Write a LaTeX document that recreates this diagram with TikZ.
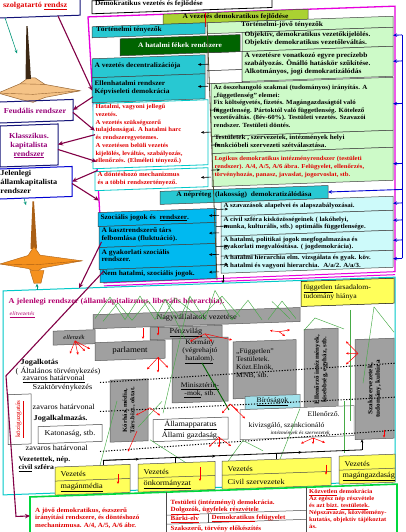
\documentclass[tikz,border=0pt]{standalone}
\usepackage{fontspec}
\setmainfont{Liberation Serif}[FakeStretch=1.1]
\usetikzlibrary{arrows.meta,calc}
\definecolor{mag}{RGB}{230,0,220}
\definecolor{cyh}{RGB}{40,200,210}
\definecolor{cyb}{RGB}{0,185,240}
\definecolor{lgr}{RGB}{205,250,200}
\definecolor{lcy}{RGB}{205,250,250}
\definecolor{hgr}{RGB}{170,210,50}
\definecolor{dgr}{RGB}{0,100,0}
\definecolor{pur}{RGB}{130,0,70}
\definecolor{ptx}{RGB}{150,0,120}
\definecolor{rtx}{RGB}{225,0,0}
\definecolor{gry}{RGB}{160,160,160}
\definecolor{yel}{RGB}{255,255,90}
\definecolor{tanC}{RGB}{245,195,135}
\definecolor{tanD}{RGB}{150,100,50}
\definecolor{org}{RGB}{245,145,30}
\definecolor{orgD}{RGB}{170,95,20}
\definecolor{cyf}{RGB}{0,200,200}
\definecolor{nvy}{RGB}{20,20,120}
\definecolor{blu}{RGB}{0,0,210}
\definecolor{zg}{RGB}{70,170,70}
\definecolor{tl}{RGB}{0,150,120}
\definecolor{ttl}{RGB}{180,0,110}
\definecolor{gbr}{RGB}{0,215,60}
\definecolor{bic}{RGB}{160,225,235}
\newcommand\fntH{\bfseries\fontsize{6.8}{7.8}\selectfont}
\newcommand\fntR{\bfseries\fontsize{6.3}{7.5}\selectfont}
\newcommand\fntRb{\bfseries\fontsize{6.8}{8}\selectfont}
\newcommand\fntL{\bfseries\fontsize{7.5}{9}\selectfont}
\newcommand\fntN{\fontsize{7.5}{8.5}\selectfont}
\newcommand\fntT{\bfseries\fontsize{7.5}{9}\selectfont}
\newcommand\fntP{\fontsize{7}{8}\selectfont}
\newcommand\fntG{\bfseries\fontsize{6.4}{7.5}\selectfont}
\newcommand\lbx[2]{\makebox[#1][l]{\begin{tabular}{@{}l@{}}#2\end{tabular}}}
% text of a box: #1 box name, #2 node options, #3 text
\newcommand\btx[3]{\node[inner sep=0pt, #2] (#1t) at (#1.center) {#3};}
\tikzset{
  bx/.style={draw=black!75, line width=0.5pt, anchor=north west, inner sep=2pt, outer sep=0pt, transform shape},
  gb/.style={bx, fill=gry, draw=black!65},
  yb/.style={bx, fill=yel, draw=black!70, minimum height=28pt},
  tx/.style={anchor=west, inner sep=0.5pt, font=\fntN},
  blk/.style={draw=black, line width=0.6pt, -{Stealth[length=3.2pt,width=2.8pt]}},
  bla/.style={draw=blu, line width=0.9pt, -{Stealth[length=4pt,width=3.5pt]}},
  pa/.style={draw=pur, line width=1.1pt, -{Stealth[length=5pt,width=4.5pt]}},
  ra/.style={draw=red, line width=0.5pt, -{Stealth[length=2.6pt,width=2.4pt]}},
  ga/.style={draw=tl, line width=0.6pt, -{Stealth[length=3.5pt,width=3pt]}},
  zz/.style={draw=zg, line width=0.45pt},
  dl/.style={draw=black, line width=1pt, dash pattern=on 1.2pt off 1.6pt},
}
\begin{document}
\begin{tikzpicture}[x=1pt,y=-1pt]
\useasboundingbox (0,0) rectangle (406,532);
\fill[white] (0,0) rectangle (406,532);
\begin{scope}[yshift=-7pt, yslant=0.035]

% ---------- spinning tops ----------
\fill[tanC, draw=tanD, line width=0.5pt] (-2,86) -- (20,77.5) -- (28,72) -- (35,72) -- (45,79) -- (80,86.6) -- (45,92) -- (33,96.5) -- (20,93) -- cycle;
\draw[tanD, line width=0.4pt] (-2,86) -- (33,88.5) -- (80,86.6);
\draw[tanD, line width=0.4pt] (20,77.5) -- (45,79);
\fill[black!60!tanD] (26.4,20) -- (27.6,20) -- (31,73) -- (25.5,73) -- cycle;
\fill[orgD] (32.5,195.5) -- (34,195.5) -- (37,243) -- (30.5,243) -- cycle;
\fill[org, draw=orgD, line width=0.4pt] (0,257) -- (28,249.5) -- (34,240.5) -- (40,249.5) -- (82,256.7) -- (42,262.5) -- (36,266.5) -- (28,262.5) -- cycle;
\draw[orgD, line width=0.4pt] (0,257) -- (36,259) -- (82,256.7);
\fill[org, draw=orgD, line width=0.4pt] (30,264.5) -- (44,265) -- (41,277.5) -- (34,277.5) -- cycle;

% ---------- left history boxes ----------
\node[bx, draw=nvy, line width=1pt, minimum width=83pt, minimum height=21pt] (T0) at (-3,-10) {};
\btx{T0}{font=\fntL, text=rtx}{\lbx{77pt}{\hspace{3pt}szolgatartó \underline{rendsz}}}
\node[bx, draw=nvy, line width=1pt, minimum width=76pt, minimum height=21pt] (F) at (-3,95) {};
\btx{F}{font=\fntL, text=ptx}{Feudális rendszer}
\node[bx, draw=nvy, line width=1pt, minimum width=58pt, minimum height=41pt] (K) at (0,119) {};
\btx{K}{font=\fntL, text=ptx, align=center}{Klasszikus.\\kapitalista\\\underline{rendszer}}
\node[bx, draw=blu, line width=1pt, minimum width=75pt, minimum height=30pt] (J) at (-3,162) {};
\btx{J}{font=\fntL}{\lbx{68pt}{Jelenlegi\\államkapitalista\\rendszer}}

% ---------- title ----------
\node[bx, draw=black, line width=0.8pt, minimum width=180pt, minimum height=13pt] (T1) at (92,-3) {};
\btx{T1}{font=\fntH}{\lbx{174pt}{Demokratikus vezetés és fejlődése}}

% ---------- magenta frame ----------
\draw[mag, line width=1.3pt] (104,280) -- (88,13) -- (395,13) -- (395,279);
\draw[mag, line width=1pt] (104,279.5) -- (395,278.5);
\draw[mag, line width=1pt] (104,282.5) -- (395,281.5);

\node[bx, fill=hgr, minimum width=145pt, minimum height=10pt] (H) at (163,13) {};
\btx{H}{font=\fntH}{A vezetés demokratikus fejlődése}
\draw[red, line width=0.8pt] (205,13) -- (205,27);

% left column
\node[bx, fill=cyh, minimum width=113pt, minimum height=11pt] (L1) at (92,23) {};
\btx{L1}{font=\fntH}{\lbx{109pt}{\hspace{2pt}Történelmi tényezők}}
\node[bx, fill=lgr, minimum width=186pt, minimum height=11pt] (R1) at (207,23) {};
\btx{R1}{font=\fntH}{\lbx{182pt}{\hspace{32pt}Történelmi-jövő tényezők}}
\node[bx, fill=white, minimum width=35pt, minimum height=18pt] (W1) at (207,53) {};
\node[bx, fill=white, minimum width=35pt, minimum height=13pt] (W2) at (207,71) {};
\node[bx, fill=dgr, minimum width=120pt, minimum height=17pt] (L2) at (120,36) {};
\btx{L2}{font=\fntH, text=white}{A hatalmi fékek rendszere}
\node[bx, fill=cyh, minimum width=113pt, minimum height=19pt] (L3) at (92,55) {};
\btx{L3}{font=\fntH}{\lbx{108pt}{A vezetés decentralizációja}}
\node[bx, fill=cyh, minimum width=113pt, minimum height=25pt] (L4) at (92,74) {};
\btx{L4}{font=\fntH}{\lbx{108pt}{Ellenhatalmi rendszer\\Képviseleti demokrácia}}
\node[bx, fill=white, draw=cyf, line width=0.8pt, minimum width=115pt, minimum height=65pt] (L5) at (93,100) {};
\btx{L5}{font=\bfseries\fontsize{6.1}{7.7}\selectfont, text=rtx}{\lbx{110pt}{Hatalmi, vagyoni jellegű\\vezetés.\\A vezetés szükségszerű\\tulajdonságai. A hatalmi harc\\és rendszeregyetemes.\\A vezetésen belüli vezetés\\kijelölés, leváltás, szabályozás,\\ellenőrzés. (Elméleti tényező.)}}
\node[bx, fill=white, draw=cyf, line width=0.8pt, minimum width=113pt, minimum height=19pt] (L6) at (95,168) {};
\btx{L6}{font=\fntR, text=rtx}{\lbx{108pt}{A döntéshozó mechanizmus\\és a többi rendszertényező.}}

% right column
\node[bx, fill=lgr, minimum width=151pt, minimum height=19pt] (R2) at (242,34) {};
\btx{R2}{font=\fntRb}{\lbx{146pt}{Objektív, demokratikus vezetőkijelölés.\\Objektív demokratikus vezetőleváltás.}}
\node[bx, fill=lgr, minimum width=151pt, minimum height=30pt] (R3) at (242,53) {};
\btx{R3}{font=\fntRb}{\lbx{146pt}{A vezetésre vonatkozó egyre precízebb\\szabályozás. Önálló hatáskör szűkítése.\\Alkotmányos, jogi demokratizálódás}}
\node[bx, fill=lgr, minimum width=182pt, minimum height=53pt] (R4) at (211,84) {};
\btx{R4}{font=\fntR}{\lbx{177pt}{Az összehangoló szakmai (tudományos) irányítás. A\\„függetlenség” elemei:\\Fix költségvetés, fizetés. Magángazdaságtól való\\függetlenség. Pártoktól való függetlenség. Kötelező\\vezetőváltás. (8év-60\%). Testületi vezetés. Szavazói\\rendszer. Testületi döntés.}}
\node[bx, fill=lgr, minimum width=181pt, minimum height=17pt] (R5) at (212,137) {};
\btx{R5}{font=\bfseries\fontsize{6.5}{7.5}\selectfont}{\lbx{176pt}{Testületek , szervezetek, intézmények helyi\\funkcióbeli szervezeti szétválasztása.}}
\node[bx, fill=lgr, minimum width=181pt, minimum height=33pt] (R6) at (212,154) {};
\btx{R6}{font=\bfseries\fontsize{6.1}{7.6}\selectfont, text=rtx}{\lbx{176pt}{Logikus demokratikus intézményrendszer (testületi\\rendszer). A/4, A/5, A/6 ábra. Felügyelet, ellenőrzés,\\törvényhozás, panasz, javaslat, jogorvoslat, stb.}}

\node[bx, fill=cyh, minimum width=168pt, minimum height=13pt] (NP) at (160,190) {};
\btx{NP}{font=\fntH}{A népréteg \ (lakosság) \ demokratizálódása}

\node[bx, fill=cyb, minimum width=118pt, minimum height=14pt] (B1) at (98,209) {};
\btx{B1}{font=\fntH}{\lbx{113pt}{Szociális jogok és \ \underline{rendszer}.}}
\node[bx, fill=cyb, minimum width=117pt, minimum height=21pt] (B2) at (99,223) {};
\btx{B2}{font=\fntH}{\lbx{112pt}{A kasztrendszerű társ\\felbomlása (fluktuáció).}}
\node[bx, fill=cyb, minimum width=117pt, minimum height=22pt] (B3) at (99,244) {};
\btx{B3}{font=\fntH}{\lbx{112pt}{A gyakorlati szociális\\rendszer.}}
\node[bx, fill=cyb, minimum width=116pt, minimum height=13pt] (B4) at (100,266) {};
\btx{B4}{font=\fntH}{\lbx{112pt}{Nem hatalmi, szociális jogok.}}

\node[bx, fill=lcy, minimum width=172pt, minimum height=14pt] (R7) at (221,203) {};
\btx{R7}{font=\fntR}{\lbx{167pt}{A szavazások alapelvei és alapszabályozásai.}}
\node[bx, fill=lcy, minimum width=172pt, minimum height=20pt] (R8) at (221,217) {};
\btx{R8}{font=\fntR}{\lbx{167pt}{A civil szféra kisközösségeinek ( lakóhelyi,\\munka, kulturális, stb.) optimális függetlensége.}}
\node[bx, fill=lcy, minimum width=172pt, minimum height=20pt] (R9) at (221,237) {};
\btx{R9}{font=\fntR}{\lbx{167pt}{A hatalmi, politikai jogok megfogalmazása és\\gyakorlati megvalósítása. ( jogdemokrácia).}}
\node[bx, fill=lcy, minimum width=172pt, minimum height=17pt] (R10) at (221,257) {};
\btx{R10}{font=\fntR}{\lbx{167pt}{A hatalmi hierarchia elm. vizsgálata és gyak. köv.\\A hatalmi és vagyoni hierarchia. \ A/a/2. A/a/3.}}

% divider
\coordinate (dvT) at (207,23);
\coordinate (dvB) at (217,281);
\draw[black!60!olive, line width=0.8pt] (dvT) -- (dvB);
\foreach \n in {L3,L4,L5,L6,B1,B2,B3,B4} \draw[blk] ([xshift=3pt]\n.east) -- ([xshift=-7pt]\n.east);
\foreach \n in {R4,R5,R6} \draw[blk] ([xshift=-1pt]\n.west) -- ([xshift=8pt]\n.west);
\foreach \n in {R7,R8,R9,R10} \draw[blk] ([xshift=-5pt]\n.west) -- ([xshift=7pt]\n.west);

% blue bracket
\coordinate (bT) at (402,42);
\coordinate (bB) at (402,265.5);
\draw[blu, line width=0.9pt] (bT) -- (bB);
\draw[bla] (bT) -- (R2.east |- bT);
\foreach \n in {R3,R4,R6,NP,R7,R8,R9,R10} \draw[bla] (\n.east -| bT) -- (\n.east);

% ---------- bottom frame ----------
\node[bx, draw=cyf, line width=1pt, minimum width=392pt, minimum height=204pt] (BF) at (3,284) {};

% purple arrows
\coordinate (fa) at (92.4,87);
\coordinate (fb) at (93,93);
\coordinate (fc) at (94.8,127);
\coordinate (fc2) at (95,131);
\coordinate (fd) at (96.7,158);
\coordinate (fe) at (97.2,167);
\coordinate (ff) at (99,197);
\coordinate (fg) at (101.5,238.5);
\coordinate (fh) at (103.5,268);
\coordinate (p8a) at (6,369);
\coordinate (p8c) at (16,510);
\draw[pa] ([xshift=-22pt]T0.south east) -- (fa);
\draw[pa] (fb) -- (F.east);
\draw[pa] ([yshift=-2.5pt]F.east) -- (fc);
\draw[pa] (fc2) -- (K.east);
\draw[pa] ([yshift=-5pt]K.east) -- (fd);
\draw[pa] (fe) -- (J.east);
\draw[pa] ([yshift=-2pt]J.east) -- (ff);
\draw[pa] (fg) -- ([xshift=76pt]BF.north west);

% teal arrows
\coordinate (g1b) at (17,47);
\coordinate (g2b) at (26,199);
\coordinate (cup) at (37,278);
\draw[ga] ([xshift=8pt]T0.south west) -- (g1b);
\draw[ga] ([xshift=27pt]J.south west) -- (g2b);
\draw[ga] ([xshift=34pt]BF.north west) -- (cup);

% arrow from divider into bottom frame
\coordinate (dvA) at (223,276);
\draw[blk] (dvA) -- (dvA |- BF.north);

% title and labels
\node[tx, font=\fntT, text=ttl] (TT) at (8,295) {A jelenlegi rendszer (államkapitalizmus, liberális hierarchia).};
\node[tx, font=\itshape\fontsize{5.5}{6}\selectfont, text=ttl] (EV) at (9,308) {\underline{elitvezetés}};
\node[bx, fill=yel, draw=black, minimum width=93pt, minimum height=25pt] (FT) at (301,285) {};
\btx{FT}{font=\fntP}{\lbx{88pt}{\underline{független} társadalom-\\tudomány hiánya}}

% gray boxes
\node[gb, minimum width=207pt, minimum height=14pt] (NV) at (93,311) {};
\btx{NV}{font=\fntN}{Nagyvállalatok vezetése}
\node[gb, minimum width=72pt, minimum height=12pt] (PV) at (150,326) {};
\btx{PV}{font=\fntN}{\underline{Pénzvilág}}
\node[gb, minimum width=42pt, minimum height=14pt] (EL) at (53,326) {};
\btx{EL}{font=\itshape\fontsize{6}{7}\selectfont}{ellenzék}
\node[gb, minimum width=70pt, minimum height=18pt] (PA) at (95,339) {};
\btx{PA}{font=\fontsize{8}{9}\selectfont}{parlament}
\node[gb, minimum width=56pt, minimum height=64pt] (KO) at (172,338) {};
\node[gb, minimum width=63pt, minimum height=57pt] (FG) at (233,343) {};
\node[gb, minimum width=34pt, minimum height=82pt] (EO) at (304,333) {};
\node[gb, minimum width=39pt, minimum height=100pt] (SZ) at (355,345) {};
\node[gb, minimum width=38pt, minimum height=62pt] (KM) at (110,377) {};
\node[bx, fill=white, minimum width=23pt, minimum height=50pt] (KG) at (8,388) {};
\node[bx, fill=white, draw=black!60, minimum width=114pt, minimum height=30pt] (EOB) at (240,411) {};
\node[bx, fill=bic, draw=black!60, minimum width=55pt, minimum height=13pt] (BI) at (245,398) {};
\btx{BI}{font=\fntP}{\underline{Bíróságok}}
\node[bx, fill=white, minimum width=64pt, minimum height=17pt] (KAT) at (38,421) {};
\btx{KAT}{font=\fntN}{Katonaság, stb.}
\node[bx, fill=white, minimum width=75pt, minimum height=22pt] (AP) at (153,418) {};
\btx{AP}{font=\fntN, align=center}{\underline{Államapparatus}\\Állami gazdaság.}

\node[font=\fntP, align=center, inner sep=0pt] (KOt) at (200,352) {Kormány\\(végrehajtó\\\underline{hatalom)}.};
\node[font=\fntP, align=center, inner sep=0pt] (KOm) at (200,390) {\underline{Minisztériu-}\\\underline{-mok}, stb.};
\node[font=\fntP, anchor=north west, inner sep=0pt] (FGt) at (236,349) {\lbx{58pt}{„Független”\\Testületek.\\Közt.Elnök,\\MNB, stb.}};
\node[font=\bfseries\fontsize{6.3}{7.5}\selectfont, rotate=90, align=center, inner sep=0pt] (EOt) at (321,374) {Ellenőrző intézmények,\\kisebbség, egyház, stb.};
\node[font=\bfseries\fontsize{6.5}{7.5}\selectfont, rotate=90, align=center, inner sep=0pt] (SZt) at (374.5,395) {Szakszervezetek,\\tudomány, kultúra};
\node[font=\bfseries\fontsize{6}{7.5}\selectfont, rotate=90, align=center, inner sep=0pt] (KMt) at (129,408) {Kórház, média,\\Társ.bizt., oktat.};
\node[font=\fontsize{6.5}{7.5}\selectfont, rotate=90, text=rtx, inner sep=0pt] (KGt) at (19.5,413) {\underline{közigazgatás}};
\node[tx, font=\fntP] (EH1) at (307,418) {Ellenőrző.};
\node[tx, font=\fntP] (EH2) at (248,427) {kivizsgáló, szankcionáló};
\node[tx, font=\itshape\fontsize{5}{6}\selectfont] (EH3) at (270,435.5) {intézmények és szervezetek};

% left labels
\node[tx, font=\fntT] (JA) at (20,356) {Jogalkotás};
\node[tx] (AT) at (15,364.5) {( Általános törvénykezés)};
\node[tx] (ZH1) at (22,373) {\underline{zavaros határvonal}};
\node[tx] (SZT) at (32,382) {Szaktörvénykezés};
\node[tx] (ZH2) at (32,401) {zavaros határvonal};
\node[tx, font=\fntT] (JAL) at (33,413) {Jogalkalmazás.};
\node[tx] (ZH3) at (25,442) {zavaros határvonal};

% dotted borders
\draw[dl] (100,379) -- (396,370);
\draw[dl] (100,408) -- (396,404);
\draw[dl] (100,448) -- (396,437);

% green zigzags
\draw[zz] (95,315) -- (110,294) -- (125,317) -- (140,294) -- (155,318) -- (165,298) -- (180,317) -- (190,296) -- (205,320) -- (215,291) -- (232,321) -- (248,302) -- (262,322);
\draw[zz] (103,318) -- (118,300) -- (132,318) -- (148,299) -- (162,318) -- (175,297) -- (200,318) -- (222,297) -- (240,318);
\draw[zz] (268,322) -- (282,304) -- (296,322);
\draw[zz] (272,304) -- (290,322);
\draw[zz] (190,296) -- (163,412);
\draw[zz] (165,298) -- (185,338);
\draw[zz] (304,334) -- (315,322) -- (344,334);
\draw[zz] (350,315) -- (350,426);
\draw[zz] (374,313) -- (394,339);
\draw[zz] (374,313) -- (363,389);
\draw[zz] (97,473) -- (117,398);
\draw[zz] (138,425) -- (162,400);
\draw[zz] (150,438) -- (193,467);
\draw[zz] (223,469) -- (243,442) -- (263,453);
\draw[zz] (344,458) -- (344,406);
\draw[zz] (280,462) -- (300,412);
\draw[dgr, line width=0.9pt] (202,363) -- (229,411);

% red arrow fans
\foreach \p in {{70,349},{78,350.5},{85,347},{90,345}} \draw[ra] (75,336.5) -- (\p);
\draw[ra] (143,326) -- (143,337);
\draw[ra] (158,326) -- (158,334);
\foreach \p in {{147,367.5},{158,371},{168,366.5}} \draw[ra] (158,356) -- (\p);
\foreach \p in {{190,341},{212,342},{232,341}} \draw[ra] (205,334) -- (\p);
\foreach \p in {{270,333},{290,333},{285,339}} \draw[ra] (279,334.5) -- (\p);
\foreach \p in {{346,346.5},{346,358.5},{346,369.5}} \draw[ra] (358,359) -- (\p);
\foreach \p in {{136,413},{160,414}} \draw[ra] (150,406) -- (\p);
\foreach \p in {{238,412},{245,420},{222,414}} \draw[ra] (230,405) -- (\p);
\foreach \p in {{209,447},{219,448},{231,447}} \draw[ra] (219,438) -- (\p);
\foreach \p in {{301,447},{313,448},{325,447}} \draw[ra] (313,442) -- (\p);
\draw[ra] (384,436) -- (384,444);
\draw[ra] (137,429) -- (128,449);

% yellow leader boxes
\node[yb, minimum width=75pt] (Y1) at (55,462) {};
\node[yb, minimum width=77pt] (Y2) at (138,462) {};
\node[yb, minimum width=109pt] (Y3) at (222,462) {};
\node[yb, minimum width=56pt] (Y4) at (339,461) {};
\foreach \n in {Y1,Y2,Y3,Y4} {
  \draw[black!70, line width=0.5pt] (\n.west) -- (\n.east);
  \node[tx] (\n v) at ([xshift=5pt,yshift=6.5pt]\n.west) {Vezetés};
}
\node[tx] (Y1t) at ([xshift=5pt,yshift=-6.5pt]Y1.west) {\underline{magánmédia}};
\node[tx] (Y2t) at ([xshift=5pt,yshift=-6.5pt]Y2.west) {\underline{önkormányzat}};
\node[tx] (Y3t) at ([xshift=5pt,yshift=-6.5pt]Y3.west) {Civil szervezetek};
\node[tx] (Y4t) at ([xshift=3pt,yshift=-6.5pt]Y4.west) {\underline{magángazdaság}};
\draw[ra] (118,471) -- (118,481);
\draw[ra] (200,467) -- (200,481);
\draw[ra] (326,469) -- (326,479);
\node[tx, font=\bfseries\fontsize{7}{8.5}\selectfont, align=left] (VN) at (18,457.5) {Vezetettek, nép.\\\underline{civil} szféra};

% black connector to leaders
\coordinate (k1) at (103,457);
\coordinate (k2) at (175,457);
\coordinate (k3) at (276,456);
\coordinate (k4) at (362,455.5);
\draw[black, line width=0.8pt] (k1) -- (k4);
\draw[blk] (k1) -- ($(k1)!0.5!(k2)$);
\draw[blk] (k2) -- ($(k2)!0.4!(k3)$);
\draw[blk] (k3) -- ($(k3)!0.3!(k4)$);
\draw[black, line width=0.8pt] (k1) -- (k1 |- Y1.north);
\draw[black, line width=0.8pt] (k2) -- (k2 |- Y2.north);
\draw[black, line width=0.8pt] (k3) -- (k3 |- Y3.north);
\draw[blk] (k4) -- (k4 |- SZ.south);

% ---------- bottom: future system ----------
\node[bx, draw=gbr, line width=1.6pt, minimum width=367pt, minimum height=50pt] (GB) at (30,491) {};
\draw[pa] (fh) -- (p8a) -- (p8c) -- (GB.west |- p8c);
\draw[black!70, line width=0.5pt] (166,491) -- (166,541);
\draw[black!70, line width=0.5pt] (306,491) -- (306,541);
\draw[black!70, line width=0.5pt] (166,514) -- (306,514);
\draw[black!70, line width=0.5pt] (166,523) -- (306,523);
\draw[black!70, line width=0.5pt] (208,514) -- (208,523);
\node[anchor=north west, inner sep=0pt, font=\fntG, text=rtx] (GL) at (35,501) {\lbx{128pt}{A jövő demokratikus, észszerű\\irányítási rendszere, és döntéshozó\\mechanizmusa. A/4, A/5, A/6 ábr.}};
\node[tx, font=\fntG, text=rtx] (GM1) at (170,502) {Testületi (intézményi) demokrácia.};
\node[tx, font=\fntG, text=rtx] (GM2) at (170,509.5) {\underline{Dolgozók}, ügyfelek részvétele};
\node[tx, font=\fntG, text=rtx] (GM3) at (170,518.5) {\underline{Bárki-elv}};
\node[tx, font=\fntG, text=rtx] (GM4) at (211,518.5) {\underline{Demokratikus} felügyelet};
\node[tx, font=\fntG, text=rtx] (GM5) at (170,528) {Szakszerű, törvény előkészítés};
\node[anchor=north west, inner sep=0pt, font=\bfseries\fontsize{6}{7}\selectfont, text=rtx] (GR) at (309,492) {\lbx{86pt}{\underline{Közvetlen} demokrácia\\Az egész nép részvétele\\és azt \underline{bizt}. \underline{testületek}.\\Népszavazás, közvélemény-\\kutatás, objektív tájékoztat\\ás.}};

\end{scope}
\end{tikzpicture}
\end{document}
